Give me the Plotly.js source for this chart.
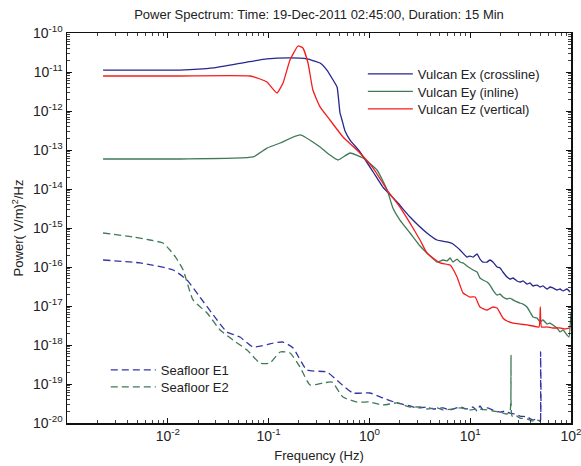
<!DOCTYPE html>
<html>
<head>
<meta charset="utf-8">
<script src="https://cdn.plot.ly/plotly-3.0.1.min.js"></script>
<style>html,body{margin:0;padding:0;background:#fff;}#chart{width:581px;height:466px;}</style>
</head>
<body>
<div id="chart"></div>
<script>
// Vulcan Ex (crossline)
const exFreq = [0.00228, 0.0132, 0.0281, 0.0611, 0.0964, 0.163, 0.240, 0.324, 0.379, 0.436, 0.478, 0.511, 0.535, 0.573, 0.643, 0.807, 1.09, 1.36, 1.88, 2.53, 3.72, 4.69, 5.89, 6.75, 7.93, 9.29, 9.95, 10.7, 11.7, 12.5, 13.4, 14.7, 15.7, 16.8, 18.5, 19.8, 21.1, 23.2, 24.8, 26.6, 29.1, 31.2, 33.4, 36.6, 39.2, 42.0, 46.0, 49.3, 52.7, 57.8, 61.9, 66.2, 72.6, 77.8, 83.4, 91.2, 97.7];
const exPow = [1.12e-11, 1.12e-11, 1.27e-11, 1.80e-11, 2.16e-11, 2.29e-11, 2.16e-11, 1.70e-11, 1.12e-11, 6.24e-12, 4.12e-12, 8.89e-13, 5.88e-13, 3.07e-13, 1.80e-13, 8.89e-14, 2.73e-14, 1.12e-14, 4.64e-15, 1.91e-15, 7.44e-16, 4.92e-16, 4.38e-16, 3.89e-16, 2.73e-16, 1.80e-16, 1.91e-16, 1.80e-16, 2.16e-16, 1.60e-16, 1.34e-16, 1.34e-16, 1.51e-16, 1.34e-16, 1.0e-16, 9.42e-17, 7.44e-17, 5.54e-17, 4.92e-17, 5.22e-17, 4.38e-17, 4.12e-17, 4.38e-17, 3.66e-17, 3.89e-17, 3.26e-17, 3.45e-17, 3.07e-17, 3.26e-17, 2.73e-17, 3.07e-17, 2.90e-17, 2.57e-17, 2.73e-17, 2.43e-17, 2.73e-17, 2.29e-17];

// Vulcan Ey (inline)
const eyFreq = [0.00228, 0.0132, 0.0700, 0.0964, 0.130, 0.205, 0.324, 0.406, 0.489, 0.643, 0.865, 1.19, 1.50, 1.71, 2.01, 2.53, 3.18, 3.72, 4.69, 5.37, 5.89, 6.31, 6.75, 7.40, 7.93, 8.49, 9.29, 9.95, 10.7, 11.7, 12.5, 13.4, 14.7, 15.7, 16.8, 18.5, 19.8, 21.1, 23.2, 24.8, 26.6, 29.1, 31.2, 33.4, 36.6, 39.2, 42.0, 46.0, 49.3, 52.7, 57.8, 61.9, 66.2, 72.6, 77.8, 83.4, 91.2, 95.5, 100];
const eyPow = [5.88e-14, 5.88e-14, 6.62e-14, 1.12e-13, 1.51e-13, 2.43e-13, 1.19e-13, 7.44e-14, 5.54e-14, 8.38e-14, 6.24e-14, 3.07e-14, 9.42e-15, 3.26e-15, 1.60e-15, 7.44e-16, 3.45e-16, 2.29e-16, 1.34e-16, 1.51e-16, 1.43e-16, 1.70e-16, 1.34e-16, 1.60e-16, 1.34e-16, 1.27e-16, 1.06e-16, 9.42e-17, 8.38e-17, 7.44e-17, 5.22e-17, 4.64e-17, 4.12e-17, 3.45e-17, 2.57e-17, 1.91e-17, 2.03e-17, 1.70e-17, 1.51e-17, 1.60e-17, 1.43e-17, 1.27e-17, 1.19e-17, 1.12e-17, 9.42e-18, 7.02e-18, 5.22e-18, 4.92e-18, 3.89e-18, 4.38e-18, 3.45e-18, 3.66e-18, 3.26e-18, 2.73e-18, 2.16e-18, 2.43e-18, 1.80e-18, 1.60e-18, 6.62e-18];

// Vulcan Ez (vertical)
const ezFreq = [0.00228, 0.0132, 0.0653, 0.0822, 0.0964, 0.121, 0.139, 0.163, 0.196, 0.219, 0.246, 0.275, 0.324, 0.406, 0.547, 0.753, 1.09, 1.50, 2.01, 2.53, 3.18, 3.72, 5.01, 6.31, 7.40, 8.49, 9.95, 11.2, 12.5, 14.7, 16.8, 18.5, 21.1, 23.2, 26.6, 31.2, 36.6, 42.0, 48.2, 49.6, 50.9, 57.8, 66.2, 77.8, 87.1, 97.7];
const ezPow = [7.89e-12, 7.89e-12, 7.89e-12, 6.62e-12, 5.54e-12, 2.90e-12, 5.22e-12, 2.03e-11, 4.64e-11, 4.12e-11, 1.70e-11, 3.45e-12, 1.27e-12, 5.88e-13, 2.16e-13, 1.0e-13, 3.45e-14, 9.42e-15, 3.45e-15, 1.34e-15, 4.92e-16, 2.29e-16, 1.27e-16, 1.12e-16, 5.54e-17, 2.16e-17, 1.70e-17, 1.70e-17, 9.42e-18, 7.89e-18, 9.42e-18, 8.89e-18, 4.92e-18, 4.12e-18, 3.66e-18, 3.45e-18, 3.26e-18, 3.07e-18, 2.90e-18, 9.42e-18, 2.90e-18, 2.90e-18, 2.73e-18, 2.73e-18, 2.57e-18, 2.73e-18];

// Seafloor E1
const e1Freq = [0.00228, 0.0053, 0.0113, 0.0155, 0.0208, 0.0308, 0.0386, 0.0520, 0.0700, 0.111, 0.139, 0.175, 0.240, 0.379, 0.511, 0.687, 1.01, 1.36, 1.88, 2.53, 2.97, 3.72, 4.28, 5.37, 6.31, 7.93, 9.29, 10.7, 11.7, 12.5, 13.4, 14.7, 16.8, 19.8, 22.1, 24.8, 27.8, 31.2, 36.6, 42.0, 46.0, 49.3, 49.9, 50.0];
const e1Pow = [1.51e-16, 1.27e-16, 8.38e-17, 4.64e-17, 1.70e-17, 4.38e-18, 2.16e-18, 1.60e-18, 8.89e-19, 1.12e-18, 1.19e-18, 8.38e-19, 2.29e-19, 2.03e-19, 1.06e-19, 5.88e-20, 5.88e-20, 4.38e-20, 3.26e-20, 2.73e-20, 2.43e-20, 2.57e-20, 2.29e-20, 2.43e-20, 2.16e-20, 2.57e-20, 2.29e-20, 2.57e-20, 2.03e-20, 2.73e-20, 2.16e-20, 2.43e-20, 2.16e-20, 1.91e-20, 2.03e-20, 1.80e-20, 1.70e-20, 1.51e-20, 1.43e-20, 1.19e-20, 1.27e-20, 1.12e-20, 6.62e-19, 1.06e-20];

// Seafloor E2
const e2Freq = [0.00228, 0.00452, 0.00665, 0.00895, 0.0105, 0.0121, 0.0142, 0.0178, 0.0245, 0.0330, 0.0444, 0.0611, 0.0822, 0.103, 0.130, 0.163, 0.205, 0.258, 0.347, 0.426, 0.547, 0.753, 1.01, 1.36, 1.88, 2.53, 3.18, 3.72, 4.69, 5.37, 6.75, 7.93, 9.95, 11.7, 14.7, 16.8, 19.8, 23.2, 24.8, 25.4, 26.0, 27.8, 31.2, 36.6, 42.0, 46.0, 49.3];
const e2Pow = [7.44e-16, 5.88e-16, 4.92e-16, 4.12e-16, 2.73e-16, 1.70e-16, 8.38e-17, 1.43e-17, 6.62e-18, 2.43e-18, 1.34e-18, 7.44e-19, 3.45e-19, 3.45e-19, 6.62e-19, 6.24e-19, 2.73e-19, 9.42e-20, 1.06e-19, 1.12e-19, 4.64e-20, 3.45e-20, 3.45e-20, 2.90e-20, 3.26e-20, 2.57e-20, 2.57e-20, 2.29e-20, 2.43e-20, 2.16e-20, 2.29e-20, 2.43e-20, 2.16e-20, 2.29e-20, 2.16e-20, 2.03e-20, 1.91e-20, 1.70e-20, 1.91e-20, 5.54e-19, 1.51e-20, 1.60e-20, 1.34e-20, 1.27e-20, 1.12e-20, 1.19e-20, 1.12e-20];

const xTickVals = [0.01, 0.1, 1, 10, 100];
const xTickText = ['10<sup>-2</sup>', '10<sup>-1</sup>', '10<sup>0</sup>', '10<sup>1</sup>', '10<sup>2</sup>'];
const yTickVals = [1e-20, 1e-19, 1e-18, 1e-17, 1e-16, 1e-15, 1e-14, 1e-13, 1e-12, 1e-11, 1e-10];
const yTickText = ['10<sup>-20</sup>', '10<sup>-19</sup>', '10<sup>-18</sup>', '10<sup>-17</sup>', '10<sup>-16</sup>', '10<sup>-15</sup>', '10<sup>-14</sup>', '10<sup>-13</sup>', '10<sup>-12</sup>', '10<sup>-11</sup>', '10<sup>-10</sup>'];

const BLUE = '#26268f', GREEN = '#3e7a57', RED = '#f51c1c';
const FONT = '"Liberation Sans", Arial, Helvetica, sans-serif';

const traces = [
  {x: e1Freq, y: e1Pow, name: 'Seafloor E1', mode: 'lines', legend: 'legend4',
   line: {color: '#3434a6', width: 1.3, dash: '7px,4px', shape: 'spline', smoothing: 0.5}},
  {x: e2Freq, y: e2Pow, name: 'Seafloor E2', mode: 'lines', legend: 'legend5',
   line: {color: GREEN, width: 1.3, dash: '7px,4px', shape: 'spline', smoothing: 0.5}},
  {x: exFreq, y: exPow, name: 'Vulcan Ex (crossline)', mode: 'lines', legend: 'legend',
   line: {color: BLUE, width: 1.3, shape: 'spline', smoothing: 0.4}},
  {x: eyFreq, y: eyPow, name: 'Vulcan Ey (inline)', mode: 'lines', legend: 'legend2',
   line: {color: GREEN, width: 1.3, shape: 'spline', smoothing: 0.4}},
  {x: ezFreq, y: ezPow, name: 'Vulcan Ez (vertical)', mode: 'lines', legend: 'legend3',
   line: {color: RED, width: 1.3, shape: 'spline', smoothing: 0.4}}
];

const axisCommon = {
  type: 'log', showgrid: false, zeroline: false,
  showline: true, linecolor: '#111', linewidth: 1.5, mirror: 'ticks',
  ticks: 'inside', ticklen: 5, tickwidth: 1, tickcolor: '#111',
  tickmode: 'array', ticklabeloverflow: 'allow',
  tickfont: {family: FONT, size: 14, color: '#222'},
  minor: {ticks: 'inside', ticklen: 3, tickwidth: 0.8, tickcolor: '#111', dtick: 'D1', showgrid: false}
};

function legendAt(xp, yp) {
  return {x: xp, y: yp, xanchor: 'left', yanchor: 'top', bgcolor: 'rgba(0,0,0,0)',
          borderwidth: 0, font: {family: FONT, size: 13, color: '#222'}, itemwidth: 45,
          tracegroupgap: 0};
}

const layout = {
  width: 581, height: 466,
  margin: {l: 67, r: 10, t: 33, b: 43},
  paper_bgcolor: '#fff', plot_bgcolor: '#fff',
  font: {family: FONT, size: 13, color: '#222'},
  title: {text: 'Power Spectrum: Time: 19-Dec-2011 02:45:00, Duration: 15 Min',
          font: {family: FONT, size: 13, color: '#222'},
          xref: 'paper', x: 0.5, xanchor: 'center', yref: 'container', y: 0.968, yanchor: 'middle'},
  xaxis: Object.assign({}, axisCommon, {
    range: [-3, 2], tickvals: xTickVals, ticktext: xTickText,
    title: {text: 'Frequency (Hz)', font: {family: FONT, size: 13, color: '#222'}, standoff: 7}
  }),
  yaxis: Object.assign({}, axisCommon, {
    range: [-20, -10], tickvals: yTickVals, ticktext: yTickText,
    title: {text: 'Power( V/m)<sup>2</sup>/Hz', font: {family: FONT, size: 13, color: '#222'}, standoff: 6}
  }),
  showlegend: true,
  legend: legendAt(0.587, 0.9333),
  legend2: legendAt(0.587, 0.8885),
  legend3: legendAt(0.587, 0.8436),
  legend4: legendAt(0.077, 0.1744),
  legend5: legendAt(0.077, 0.1308)
};

Plotly.newPlot('chart', traces, layout, {displayModeBar: false, staticPlot: true});
</script>
</body>
</html>
